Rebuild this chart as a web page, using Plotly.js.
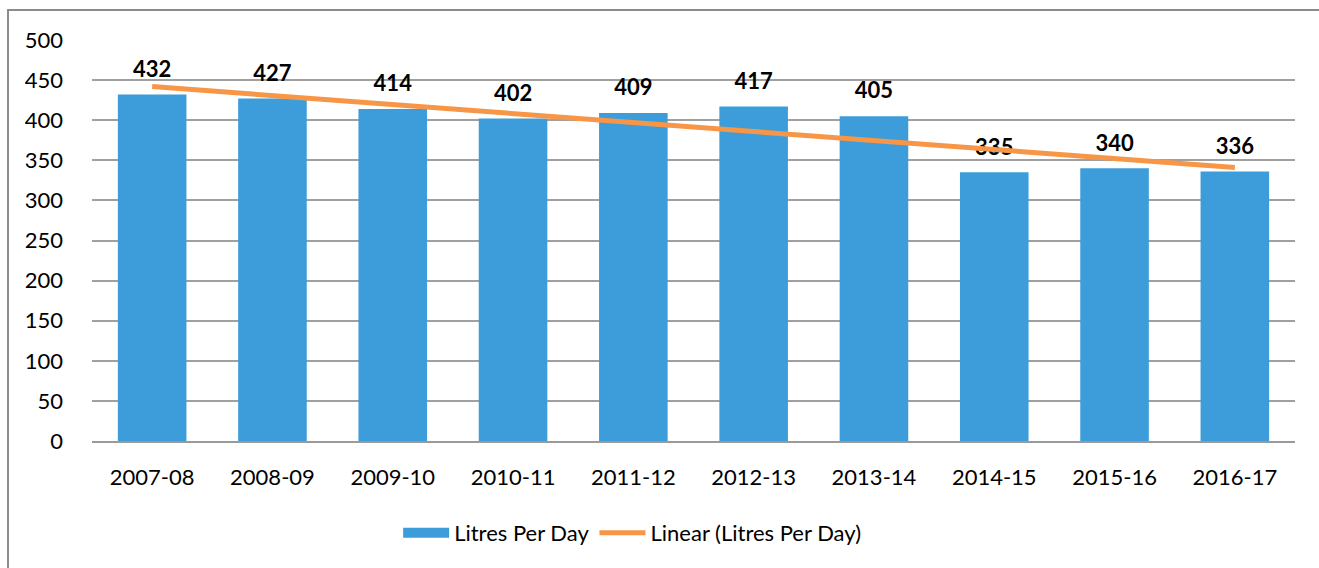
<!DOCTYPE html>
<html>
<head>
<meta charset="utf-8">
<script src="https://cdn.plot.ly/plotly-3.0.1.min.js"></script>
<style>
html,body{margin:0;padding:0;background:#fff;}
#wrap{position:relative;width:1319px;height:568px;overflow:hidden;}
#chart{width:1319px;height:568px;}
#frame{position:absolute;left:7px;top:9px;width:1340px;height:620px;border:2px solid #8c8c8c;pointer-events:none;box-sizing:border-box;}
</style>
</head>
<body>
<div id="wrap">
<div id="chart"></div>
<div id="frame"></div>
</div>
<script>
const categories = ["2007-08","2008-09","2009-10","2010-11","2011-12","2012-13","2013-14","2014-15","2015-16","2016-17"];
const litresPerDay = [432,427,414,402,409,417,405,335,340,336];
const trendCategories = ["2007-08","2016-17"];
const trendValues = [442,341];

const FONT = "Lato, 'Noto Sans', sans-serif";
const BLUE = "#3C9DDA";
const ORANGE = "#F79646";

const bars = {
  type: "bar",
  name: "Litres Per Day",
  x: categories,
  y: litresPerDay,
  marker: {color: BLUE},
  width: 0.57,
  showlegend: false,
  hoverinfo: "x+y"
};

const barLegend = {
  type: "scatter",
  mode: "lines",
  name: "Litres Per Day",
  x: [null],
  y: [null],
  line: {color: BLUE, width: 15},
  hoverinfo: "skip"
};

const labels = {
  type: "scatter",
  mode: "markers+text",
  x: categories,
  y: litresPerDay,
  text: litresPerDay.map(v => "<b>" + v + "</b>"),
  textposition: "top center",
  textfont: {family: FONT, size: 22, color: "#000"},
  marker: {size: 18, opacity: 0},
  showlegend: false,
  hoverinfo: "skip"
};

const trend = {
  type: "scatter",
  mode: "lines",
  name: "Linear (Litres Per Day)",
  x: trendCategories,
  y: trendValues,
  line: {color: ORANGE, width: 5},
  hoverinfo: "skip"
};

const layout = {
  width: 1319,
  height: 568,
  margin: {l: 92, r: 24, t: 40, b: 127},
  paper_bgcolor: "#fff",
  plot_bgcolor: "#fff",
  font: {family: FONT, size: 22, color: "#000"},
  xaxis: {
    type: "category",
    range: [-0.5, 9.5],
    showgrid: false,
    showline: true,
    linecolor: "#9a9a9a",
    linewidth: 2,
    ticks: "",
    tickfont: {family: FONT, size: 22, color: "#000"},
    ticklabelstandoff: 16
  },
  yaxis: {
    range: [0, 500],
    tickvals: [0,50,100,150,200,250,300,350,400,450,500],
    showgrid: true,
    gridcolor: "#a0a0a0",
    gridwidth: 2,
    zeroline: false,
    showline: false,
    ticks: "",
    tickfont: {family: FONT, size: 22, color: "#000"},
    ticklabelstandoff: 28
  },
  legend: {
    orientation: "h",
    x: 0.449,
    xanchor: "center",
    y: -0.229,
    yanchor: "middle",
    font: {family: FONT, size: 22, color: "#000"},
    itemwidth: 46,
    traceorder: "normal"
  },
  showlegend: true
};

Plotly.newPlot("chart", [bars, barLegend, labels, trend], layout, {displayModeBar: false, staticPlot: true});
</script>
</body>
</html>
